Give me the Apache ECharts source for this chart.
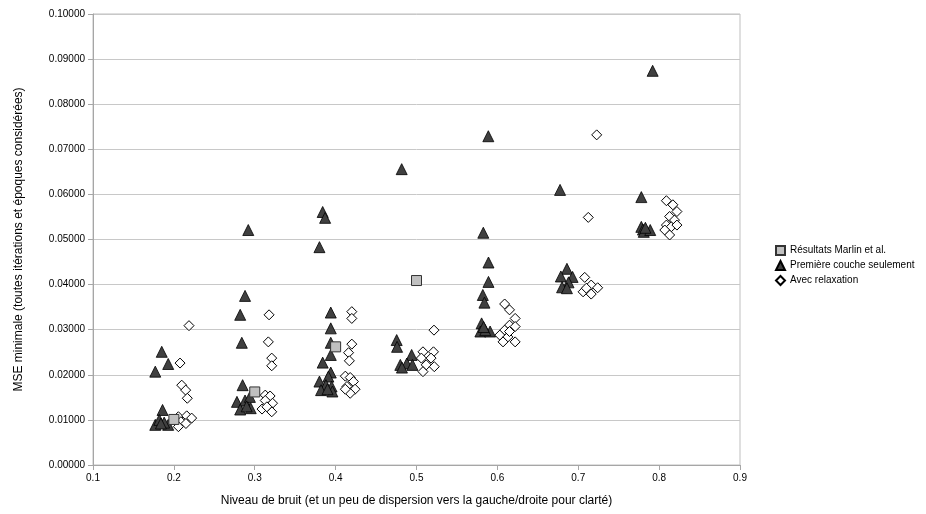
<!DOCTYPE html>
<html>
<head>
<meta charset="utf-8">
<script src="https://cdn.jsdelivr.net/npm/echarts@6/dist/echarts.min.js"></script>
<style>
html,body{margin:0;padding:0;background:#fff;}
#chart{width:926px;height:514px;}
</style>
</head>
<body>
<div id="chart"></div>
<script>
const xTicks = [0.1, 0.2, 0.3, 0.4, 0.5, 0.6, 0.7, 0.8, 0.9];
const seriesNames = ['Résultats Marlin et al.', 'Première couche seulement', 'Avec relaxation'];

const marlin = [[0.2,0.0101],[0.3,0.0162],[0.4,0.0262],[0.5,0.0409]];

const premiereCouche = [
  [0.185,0.0251],[0.193,0.0224],[0.177,0.0207],[0.186,0.0122],[0.177,0.0089],[0.182,0.0100],[0.193,0.0089],[0.188,0.0094],[0.184,0.0092],
  [0.292,0.0521],[0.288,0.0375],[0.282,0.0333],[0.284,0.0271],[0.285,0.0177],[0.278,0.0140],[0.288,0.0143],[0.294,0.0151],[0.282,0.0123],[0.295,0.0126],[0.290,0.0130],
  [0.384,0.0561],[0.387,0.0548],[0.380,0.0483],[0.394,0.0338],[0.394,0.0303],[0.394,0.0271],[0.394,0.0244],[0.384,0.0227],
  [0.394,0.0205],[0.391,0.0196],[0.380,0.0185],[0.388,0.0177],[0.395,0.0174],[0.382,0.0166],[0.396,0.0163],[0.390,0.0168],
  [0.4817,0.0656],[0.4755,0.0277],[0.476,0.0262],[0.480,0.0222],[0.494,0.0244],[0.488,0.0225],[0.495,0.0222],[0.482,0.0216],
  [0.5888,0.0729],[0.5826,0.0515],[0.589,0.0449],[0.589,0.0406],[0.582,0.0377],[0.584,0.0360],[0.5805,0.0314],[0.579,0.0296],[0.591,0.0296],[0.585,0.0299],[0.583,0.0306],
  [0.6775,0.0610],[0.686,0.0435],[0.6785,0.0418],[0.693,0.0417],[0.688,0.0405],[0.680,0.0394],[0.686,0.0392],
  [0.792,0.0874],[0.778,0.0594],[0.778,0.0528],[0.780,0.0522],[0.781,0.0517],[0.789,0.0521],[0.783,0.0526]
];

const avecRelaxation = [
  [0.2187,0.0309],[0.2076,0.0226],[0.2097,0.0177],[0.2146,0.0166],[0.2166,0.0148],[0.2056,0.0107],[0.2159,0.0109],[0.2087,0.0096],[0.2149,0.0092],[0.2056,0.0085],[0.222,0.0104],
  [0.3177,0.0333],[0.3168,0.0273],[0.321,0.0237],[0.321,0.0220],[0.313,0.0155],[0.319,0.0153],[0.313,0.0143],[0.322,0.0137],[0.309,0.0124],[0.321,0.0118],[0.315,0.0129],
  [0.420,0.0340],[0.420,0.0325],[0.420,0.0268],[0.416,0.0249],[0.417,0.0231],[0.412,0.0197],[0.418,0.0194],[0.422,0.0185],[0.414,0.0174],[0.424,0.0168],[0.418,0.0159],[0.412,0.0168],
  [0.5216,0.0299],[0.508,0.0251],[0.521,0.0251],[0.506,0.0237],[0.518,0.0237],[0.512,0.0222],[0.522,0.0218],[0.508,0.0207],
  [0.609,0.0357],[0.615,0.0344],[0.622,0.0325],[0.615,0.0310],[0.609,0.0299],[0.622,0.0307],[0.603,0.0288],[0.613,0.0284],[0.622,0.0273],[0.607,0.0273],[0.615,0.0296],
  [0.7228,0.0732],[0.7124,0.0549],[0.708,0.0416],[0.716,0.0399],[0.724,0.0393],[0.706,0.0384],[0.716,0.0379],[0.710,0.0392],
  [0.809,0.0586],[0.817,0.0577],[0.822,0.0562],[0.813,0.0551],[0.819,0.0543],[0.809,0.0532],[0.815,0.0528],[0.807,0.0521],[0.813,0.0510],[0.822,0.0532]
];

const chart = echarts.init(document.getElementById('chart'), null, {renderer:'canvas'});
const font = 'Liberation Sans, Arial, sans-serif';
chart.setOption({
  animation: false,
  backgroundColor: '#ffffff',
  textStyle: {fontFamily: font},
  grid: {left: 93, right: 186, top: 14, bottom: 49, show: true, borderColor: '#bfbfbf', borderWidth: 1, backgroundColor: 'transparent'},
  legend: {
    orient: 'vertical', left: 770, top: 240, itemGap: 4, itemWidth: 9, itemHeight: 9,
    textStyle: {fontSize: 10, color: '#000', fontFamily: font},
    data: seriesNames
  },
  xAxis: {
    type: 'value', min: xTicks[0], max: xTicks[xTicks.length-1], interval: 0.1,
    name: 'Niveau de bruit (et un peu de dispersion vers la gauche/droite pour clarté)',
    nameLocation: 'middle', nameGap: 30,
    nameTextStyle: {fontSize: 12, color: '#000', fontFamily: font},
    axisLine: {show: true, lineStyle: {color: '#a6a6a6', width: 1}},
    axisTick: {show: true, length: 5, lineStyle: {color: '#a6a6a6'}},
    axisLabel: {fontSize: 10, color: '#000', margin: 8, formatter: v => v.toFixed(1)},
    splitLine: {show: false}
  },
  yAxis: {
    type: 'value', min: 0, max: 0.1, interval: 0.01,
    name: 'MSE minimale (toutes itérations et époques considérées)',
    nameLocation: 'middle', nameGap: 68,
    nameTextStyle: {fontSize: 12, color: '#000', fontFamily: font},
    axisLine: {show: true, lineStyle: {color: '#a6a6a6', width: 1}},
    axisTick: {show: true, length: 5, lineStyle: {color: '#a6a6a6'}},
    axisLabel: {fontSize: 10, color: '#000', margin: 8, formatter: v => v.toFixed(5)},
    splitLine: {show: true, lineStyle: {color: '#c8c8c8', width: 1}}
  },
  series: [
    {name: seriesNames[0], type: 'scatter', symbol: 'rect', symbolSize: 10, data: marlin, z: 4,
     itemStyle: {color: '#c0c0c0', borderColor: '#333', borderWidth: 1, opacity: 1}},
    {name: seriesNames[1], type: 'scatter', symbol: 'triangle', symbolSize: 11, data: premiereCouche, z: 2,
     itemStyle: {color: '#404040', borderColor: '#000', borderWidth: 0.8, opacity: 1}},
    {name: seriesNames[2], type: 'scatter', symbol: 'diamond', symbolSize: 10, data: avecRelaxation, z: 3,
     itemStyle: {color: '#ffffff', borderColor: '#000', borderWidth: 1, opacity: 1}}
  ]
});
</script>
</body>
</html>
